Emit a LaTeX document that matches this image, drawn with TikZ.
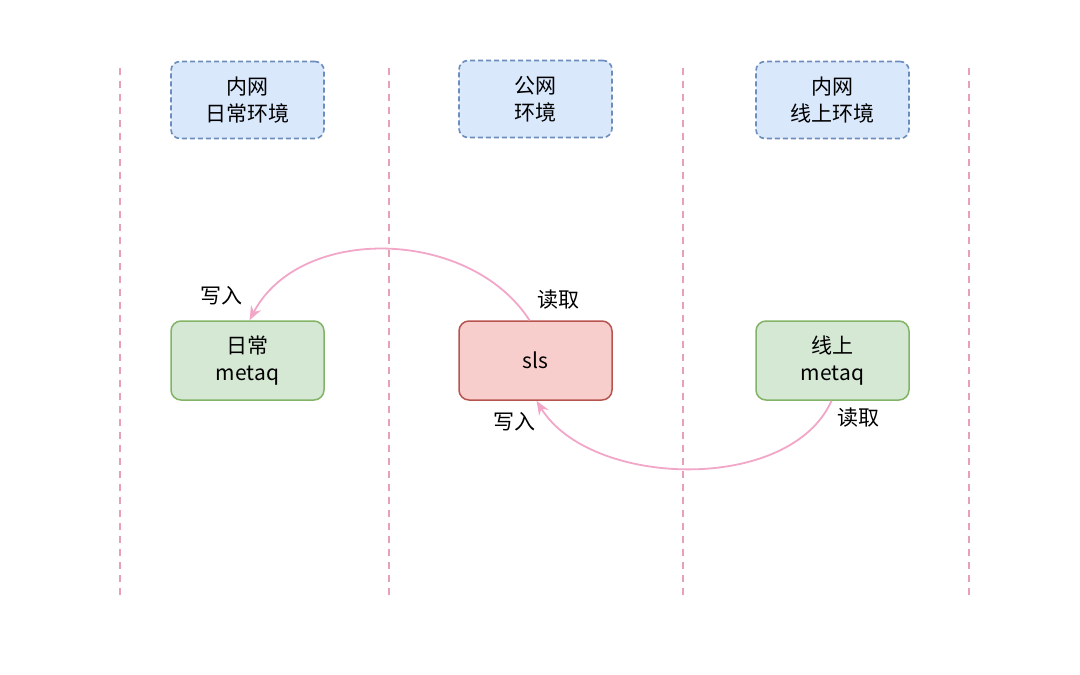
\documentclass[tikz,border=0pt]{standalone}
\usepackage{fontspec}
\setmainfont{Noto Sans CJK SC}
\usetikzlibrary{arrows.meta}
\definecolor{bfill}{HTML}{DAE8FC}
\definecolor{bdraw}{HTML}{6C8EBF}
\definecolor{gfill}{HTML}{D5E8D4}
\definecolor{gdraw}{HTML}{82B366}
\definecolor{rfill}{HTML}{F8CECC}
\definecolor{rdraw}{HTML}{B85450}
\definecolor{arrowpink}{HTML}{F2A6C8}
\definecolor{sep}{HTML}{E8A0B4}
\tikzset{
  x=1pt,y=-1pt,
  envbox/.style={draw=bdraw,fill=bfill,dash pattern=on 5pt off 3pt,line width=1.6pt,rounded corners=9pt,minimum width=153pt,minimum height=77pt,align=center,font=\fontsize{21}{27}\selectfont},
  gbox/.style={draw=gdraw,fill=gfill,line width=1.5pt,rounded corners=10pt,minimum width=153pt,minimum height=79pt,align=center,font=\fontsize{21}{27}\selectfont},
  rbox/.style={draw=rdraw,fill=rfill,line width=1.5pt,rounded corners=10pt,minimum width=153pt,minimum height=79pt,align=center,font=\fontsize{21}{27}\selectfont},
  sepline/.style={draw=sep,line width=1.2pt,dash pattern=on 7pt off 6pt},
  flow/.style={draw=arrowpink,line width=1.8pt,-{Stealth[length=14pt,width=11pt]}},
  lbl/.style={font=\fontsize{21}{26}\selectfont}
}
\begin{document}
\begin{tikzpicture}
\useasboundingbox (0,0) rectangle (1080,675);
\fill[white] (0,0) rectangle (1080,675);
% separators
\coordinate (s1t) at (120,68); \coordinate (s1b) at (120,600);
\coordinate (s2t) at (389,68); \coordinate (s2b) at (389,600);
\coordinate (s3t) at (683,68); \coordinate (s3b) at (683,600);
\coordinate (s4t) at (969,68); \coordinate (s4b) at (969,600);
\draw[sepline] (s1t) -- (s1b);
\draw[sepline] (s2t) -- (s2b);
\draw[sepline] (s3t) -- (s3b);
\draw[sepline] (s4t) -- (s4b);
% top boxes
\node[envbox] (e1) at (247.5,100) {内网\\日常环境};
\node[envbox] (e2) at (535.5,99) {公网\\环境};
\node[envbox] (e3) at (832.5,100) {内网\\线上环境};
% main boxes
\node[gbox] (daily) at (247.5,360.5) {日常\\metaq};
\node[rbox] (sls) at (535.5,360.5) {sls};
\node[gbox] (online) at (832.5,360.5) {线上\\metaq};
% arrows
\draw[flow] ([xshift=-6pt]sls.north) .. controls (470,228) and (300,224) .. ([xshift=2pt]daily.north);
\draw[flow] ([xshift=-1pt]online.south) .. controls (790,494) and (590,488) .. ([xshift=1pt]sls.south);
% labels
\node[lbl] (w1) at (221,296) {写入};
\node[lbl] (r1) at (558,300) {读取};
\node[lbl] (w2) at (514,422) {写入};
\node[lbl] (r2) at (858,418) {读取};
\end{tikzpicture}
\end{document}
